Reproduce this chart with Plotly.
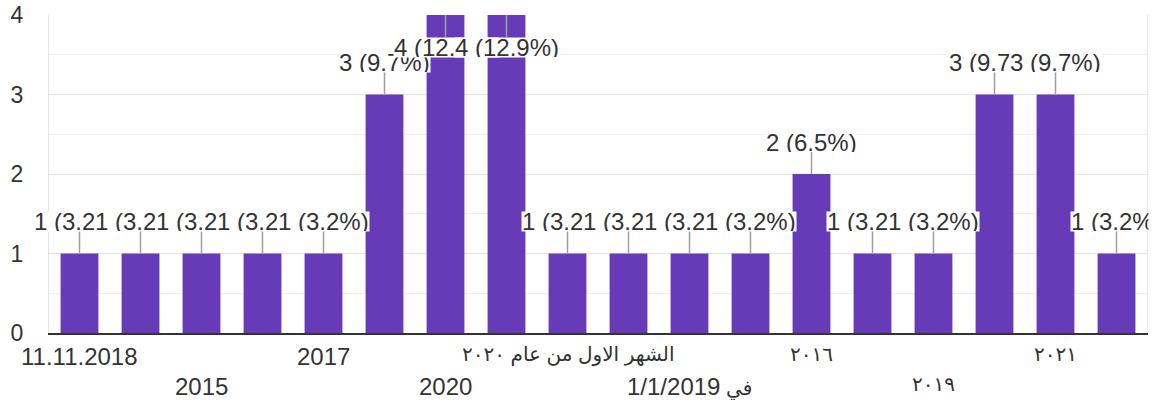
import re
import plotly.graph_objects as go

values = [1, 1, 1, 1, 1, 3, 4, 4, 1, 1, 1, 1, 2, 1, 1, 3, 3, 1]
tick_labels = ["11.11.2018", "", "2015", "", "2017", "", "2020", "",
               "الشهر الاول من عام ٢٠٢٠", "", "في 1/1/2019", "",
               "٢٠١٦", "", "٢٠١٩", "", "٢٠٢١", ""]
y_ticks = [0, 1, 2, 3, 4]

total = sum(values)
xs = list(range(len(values)))
ymax = 4

fig = go.Figure()
fig.add_trace(go.Bar(x=xs, y=values, marker=dict(color="#673ab7", line=dict(width=0)),
                     hoverinfo="skip"))

FONT = "Liberation Sans, Arial, DejaVu Sans, sans-serif"
HALO = "1px 1px 1px white, -1px -1px 1px white, 1px -1px 1px white, -1px 1px 1px white"
ann = []
for i, v in enumerate(values):
    txt = f"{v} ({v / total * 100:.1f}%)"
    if v >= ymax:
        yv, ay = ymax, 32
    else:
        yv, ay = v, -32
    ann.append(dict(x=i, y=yv, xref="x", yref="y", text=txt, showarrow=True,
                    arrowhead=0, arrowwidth=1.5, arrowcolor="#9e9e9e", ax=0, ay=ay,
                    font=dict(size=24, color="#333333", family=FONT, shadow=HALO),
                    bgcolor="white", borderpad=0, height=19, standoff=0))
# cover overflow beyond the right plot edge (reference clips labels there)
ann.append(dict(x=1, y=values[-1], xref="paper", yref="y", xanchor="left", yanchor="middle",
                yshift=32, xshift=1, text=" ", showarrow=False, width=20, height=34,
                bgcolor="white", borderpad=0))


def fmt_label(s):
    if s.isascii():
        return s, 24
    # Latin digit runs inside Arabic labels are shown at the larger size
    return re.sub(r"([0-9/.]+)", r"<span style='font-size:24px'>\1</span>", s), 20


# staggered category labels
row = 0
for i, lab in enumerate(tick_labels):
    if not lab:
        continue
    text, size = fmt_label(lab)
    ann.append(dict(x=i, y=0, xref="x", yref="paper", yanchor="top", showarrow=False,
                    yshift=-8 - 30 * (row % 2), text=text,
                    font=dict(size=size, color="#333333", family=FONT)))
    row += 1

fig.update_layout(
    width=1165, height=400,
    margin=dict(l=49, r=18, t=15, b=67),
    plot_bgcolor="white", paper_bgcolor="white",
    bargap=0.38, showlegend=False,
    annotations=ann,
    xaxis=dict(range=[-0.5, len(values) - 0.5], showticklabels=False, showgrid=False,
               zeroline=False, showline=True, linecolor="#333333", linewidth=2,
               fixedrange=True, automargin=False),
    yaxis=dict(range=[0, ymax], tickvals=y_ticks, showgrid=True, gridcolor="#e6e6e6",
               gridwidth=1, zeroline=False, showline=True, mirror=True, linecolor="#e6e6e6",
               ticks="outside", ticklen=20, tickcolor="rgba(0,0,0,0)", automargin=False,
               minor=dict(dtick=0.5, showgrid=True, gridcolor="#f0f0f0"),
               tickfont=dict(size=23, color="#333333", family=FONT), fixedrange=True),
)

fig.write_html("out.html", config={"displayModeBar": False},
               post_script="document.body.style.margin='0';document.body.style.padding='0';"
                           "document.body.style.overflow='hidden';")
